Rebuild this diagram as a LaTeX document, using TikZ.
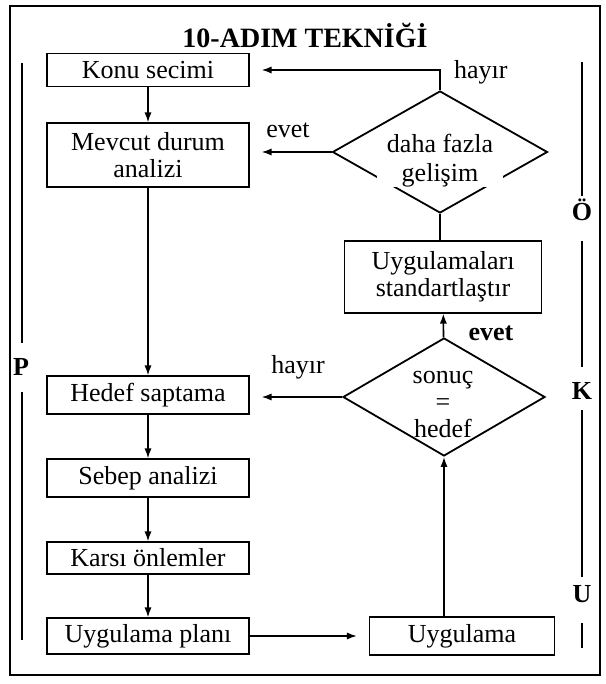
\documentclass[tikz,border=0pt]{standalone}
\usepackage{fontspec}
\setmainfont{Liberation Serif}
\usetikzlibrary{shapes.geometric,arrows.meta}

\begin{document}
\begin{tikzpicture}[
    x=0.5pt, y=-0.5pt,
    >={Latex[length=5pt,width=3.6pt]},
    font=\fontsize{13}{13.5}\selectfont,
    stepbox/.style={draw, line width=0.6pt, rectangle, minimum width=101pt, align=center, inner sep=1pt},
    decision/.style={draw, diamond, line width=0.9pt, inner sep=0pt},
    flow/.style={->, line width=0.8pt},
    side/.style={line width=0.9pt},
    tag/.style={font=\fontsize{13}{13.5}\selectfont\bfseries, inner sep=1pt}
]
  \useasboundingbox (0,0) rectangle (605,684);
  \draw[line width=0.6pt] (10,6) rectangle (600,675);
  \node[font=\fontsize{14}{16}\selectfont\bfseries] (title) at (305,35) {10-ADIM TEKNİĞİ};

  % Left column
  \node[stepbox, minimum height=16.5pt] (konu) at (148,70) {Konu secimi};
  \node[stepbox, minimum height=32pt] (mevcut) at (148,155) {Mevcut durum\\analizi};
  \node[stepbox, minimum height=19pt] (hedef) at (148,395) {Hedef saptama};
  \node[stepbox, minimum height=19pt] (sebep) at (148,478) {Sebep analizi};
  \node[stepbox, minimum height=16pt] (karsi) at (148,558) {Karsı önlemler};
  \node[stepbox, minimum height=18pt] (plan) at (148,636) {Uygulama planı};

  % Right column
  \node[decision, minimum width=107.5pt, minimum height=61pt] (gelisim) at (440,152) {};
  \node (dahatxt) at (440,143) {daha fazla};
  \node[fill=white, minimum width=63pt, minimum height=7pt, inner sep=0pt] (gelisimtxt) at (440,175) {gelişim};
  \node[stepbox, minimum width=98.5pt, minimum height=36pt] (standart) at (443,277) {Uygulamaları\\standartlaştır};
  \node[decision, minimum width=101pt, minimum height=59pt] (sonuc) at (444,397) {};
  \node[align=center] (sonuctxt) at (443,404) {sonuç\\=\\hedef};
  \node[stepbox, minimum width=92.5pt, minimum height=19pt] (uyg) at (462,636) {Uygulama};

  % Connectors
  \draw[flow] (konu) -- (mevcut);
  \draw[flow] (mevcut) -- (hedef);
  \draw[flow] (hedef) -- (sebep);
  \draw[flow] (sebep) -- (karsi);
  \draw[flow] (karsi) -- (plan);
  \draw[flow, shorten >=6pt] (plan) -- (uyg);
  \draw[flow] (uyg.north -| sonuc.south) -- (sonuc.south);
  \draw[flow] (sonuc) -- (standart);
  \draw[line width=0.8pt] (gelisim.south) -- (gelisim.south |- standart.north);
  \draw[flow, shorten >=6pt] (gelisim.north) |- (konu.east);
  \draw[flow, shorten >=6pt] (gelisim.west) -- (gelisim.west -| mevcut.east);
  \draw[flow, shorten >=6pt] (sonuc.west) -- (sonuc.west -| hedef.east);

  % Branch labels
  \node[anchor=west] (hayir1) at (447,72) {hayır};
  \node (evet1) at (288,130) {evet};
  \node[font=\fontsize{13}{13.5}\selectfont\bfseries] (evet2) at (491,333) {evet};
  \node (hayir2) at (298,367) {hayır};

  % PUKÖ side bars
  \node[tag] (ptag) at (21,367) {P};
  \coordinate (p1) at (22,63);
  \coordinate (p2) at (22,343);
  \coordinate (p3) at (22,392);
  \coordinate (p4) at (22,640);
  \draw[side] (p1) -- (p2);
  \draw[side] (p3) -- (p4);

  \node[tag] (otag) at (582,210) {Ö};
  \node[tag] (ktag) at (582,391) {K};
  \node[tag] (utag) at (582,594) {U};
  \coordinate (o1) at (582,62);
  \coordinate (o2) at (582,196);
  \coordinate (o3) at (582,241);
  \coordinate (o4) at (582,367);
  \coordinate (o5) at (582,410);
  \coordinate (o6) at (582,577);
  \coordinate (o7) at (582,623);
  \coordinate (o8) at (582,648);
  \draw[side] (o1) -- (o2);
  \draw[side] (o3) -- (o4);
  \draw[side] (o5) -- (o6);
  \draw[side] (o7) -- (o8);
\end{tikzpicture}
\end{document}
